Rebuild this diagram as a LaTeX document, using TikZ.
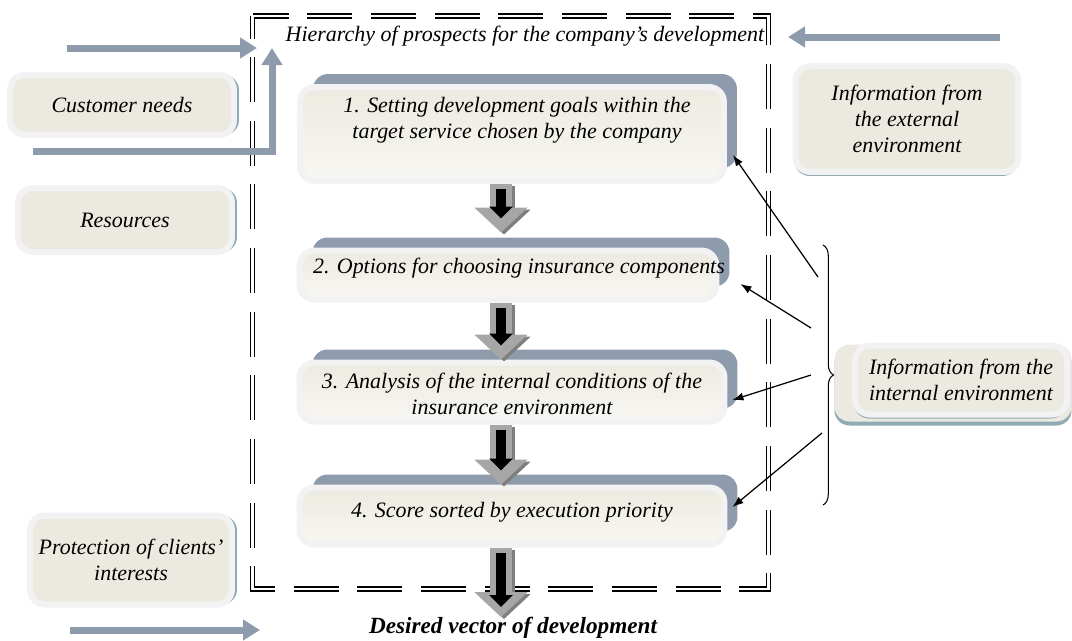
\documentclass[tikz,border=0pt]{standalone}
\usepackage{fontspec}
\setmainfont{Liberation Serif}
\usetikzlibrary{arrows.meta}
\usetikzlibrary{calc}
\usetikzlibrary{decorations.pathreplacing}

\definecolor{Cream}{HTML}{ECEAE0}
\definecolor{Rim}{HTML}{F2F2F2}
\definecolor{SlateBlue}{HTML}{8E9BAD}
\definecolor{Teal}{HTML}{8FAAB5}
\definecolor{FlowLight}{HTML}{A6A6A6}
\definecolor{FlowDark}{HTML}{7F7F7F}

\tikzstyle{Text}=[font=\fontsize{12.5}{15}\selectfont\itshape, align=center, inner sep=0pt]
\tikzstyle{StepBox}=[draw=Rim, line width=.12cm, rounded corners=.3cm, top color=Cream, bottom color=white!60!Cream, preaction={fill=SlateBlue, transform canvas={shift={(13,-13)}}}]
\tikzstyle{SideBox}=[Text, draw=Rim, line width=.12cm, rounded corners=.3cm, fill=Cream, preaction={fill=Teal, transform canvas={shift={(5,0)}}}]
\tikzstyle{InfoBox}=[Text, draw=Rim, line width=.12cm, rounded corners=.3cm, fill=Cream, preaction={fill=Teal, transform canvas={shift={(-1,4)}}}]
\tikzstyle{Frame}=[draw=black, line width=.035cm, double=white, double distance=.045cm, dash pattern=on .9cm off .3734cm, dash phase=.45cm]
\tikzstyle{Feed}=[draw=SlateBlue, line width=.14cm, -{Triangle[length=.34cm, width=.4cm]}]
\tikzstyle{FlowShade}=[draw=FlowDark, line width=.44cm, -{Triangle[length=.5cm, width=1.04cm]}, transform canvas={shift={(3,2)}}]
\tikzstyle{FlowBody}=[draw=FlowLight, line width=.44cm, -{Triangle[length=.5cm, width=1.04cm]}]
\tikzstyle{FlowCore}=[draw=black, line width=.2cm, -{Triangle[length=.24cm, width=.46cm]}, shorten <=.1cm, shorten >=.28cm]
\tikzstyle{Pointer}=[draw=black, line width=.7pt, -{Latex[length=.22cm, width=.16cm]}]

\begin{document}
\begin{tikzpicture}[x=.02cm, y=-.02cm]

  \useasboundingbox (0,0) rectangle (1072,640);

  % Frame
  \draw[Frame] (252.5,16) -- (252.5,589) -- (768.5,589) -- (768.5,16) -- cycle;
  \node[Text] (title) at (525,36) {Hierarchy of prospects for the company’s development};

  % Steps
  \node[StepBox, minimum width=8.48cm, minimum height=1.88cm] (s1) at (512,134) {};
  \node[Text] (s1t) at (517,120) {1. Setting development goals within the\\target service chosen by the company};

  \node[StepBox, minimum width=8.34cm, minimum height=.98cm] (s2) at (508,275) {};
  \node[Text] (s2t) at (519,268) {2. Options for choosing insurance components};

  \node[StepBox, minimum width=8.5cm, minimum height=1.18cm] (s3) at (512,392) {};
  \node[Text] (s3t) at (512,394) {3. Analysis of the internal conditions of the\\insurance environment};

  \node[StepBox, minimum width=8.5cm, minimum height=1.14cm] (s4) at (512,516) {};
  \node[Text] (s4t) at (512,512) {4. Score sorted by execution priority};

  \node[Text, font=\fontsize{13.2}{15}\selectfont\bfseries\itshape] (goal) at (513,628) {Desired vector of development};

  % Left column
  \node[SideBox, minimum width=4.48cm, minimum height=1.2cm] (need) at (122,105) {Customer needs};
  \node[SideBox, minimum width=4.28cm, minimum height=1.28cm] (res) at (125,220) {Resources};
  \node[SideBox, minimum width=4.04cm, minimum height=1.78cm] (prot) at (131,560) {Protection of clients’\\interests};

  % Right column
  \node[InfoBox, minimum width=4.46cm, minimum height=2.12cm] (ext) at (907,119) {Information from\\the external\\environment};
  \node[draw=none, fill=Cream, rounded corners=.3cm, minimum width=4.74cm, minimum height=1.54cm,
        preaction={fill=Teal, transform canvas={shift={(0,4)}}}] (intb) at (953,383) {};
  \node[InfoBox, minimum width=4.24cm, minimum height=1.38cm] (int) at (961,380)
    {\setbox0\hbox{internal environment}\makebox[\wd0][s]{Information from the}\\internal environment};

  % Brace
  \coordinate (bt) at (823,245);
  \coordinate (bb) at (823,505);
  \draw[decorate, decoration={brace, amplitude=6pt}, line width=.6pt] (bt) -- (bb);
  \coordinate (br1) at (818,277);
  \coordinate (br2) at (811,328);
  \coordinate (br3) at (811,375);
  \coordinate (br4) at (822,433);
  \draw[Pointer] (br1) -- ($(s1.east)+(6,21)$);
  \draw[Pointer] (br2) -- ($(s2.east)+(21,9)$);
  \draw[Pointer] (br3) -- ($(s3.east)+(5,8)$);
  \draw[Pointer] (br4) -- ($(s4.east)+(5,-9)$);

  % Input arrows
  \coordinate (in1) at (67,48);
  \coordinate (in1e) at (257,48);
  \coordinate (in2) at (33,151);
  \coordinate (in2e) at (272,48);
  \coordinate (in3) at (1000,37);
  \coordinate (in3e) at (788,37);
  \coordinate (in4) at (70,630);
  \coordinate (in4e) at (260,630);
  \draw[Feed] (in1) -- (in1e);
  \draw[Feed] (in2) -| (in2e);
  \draw[Feed] (in3) -- (in3e);
  \draw[Feed] (in4) -- (in4e);

  % Flow
  \coordinate (spine) at (501,0);
  \foreach \a/\b/\s in {s1/s2/.3cm, s2/s3/0cm, s3/s4/0cm} {
    \draw[FlowShade, shorten >=\s] (\a.south -| spine) -- (\b.north -| spine);
    \draw[FlowBody, shorten >=\s] (\a.south -| spine) -- (\b.north -| spine);
    \draw[FlowCore, shorten >=\s+.28cm] (\a.south -| spine) -- (\b.north -| spine);
  }
  \draw[FlowShade] (s4.south -| spine) -- (goal.north -| spine);
  \draw[FlowBody] (s4.south -| spine) -- (goal.north -| spine);
  \draw[FlowCore, shorten >=.2cm] (s4.south -| spine) -- (goal.north -| spine);

\end{tikzpicture}
\end{document}
